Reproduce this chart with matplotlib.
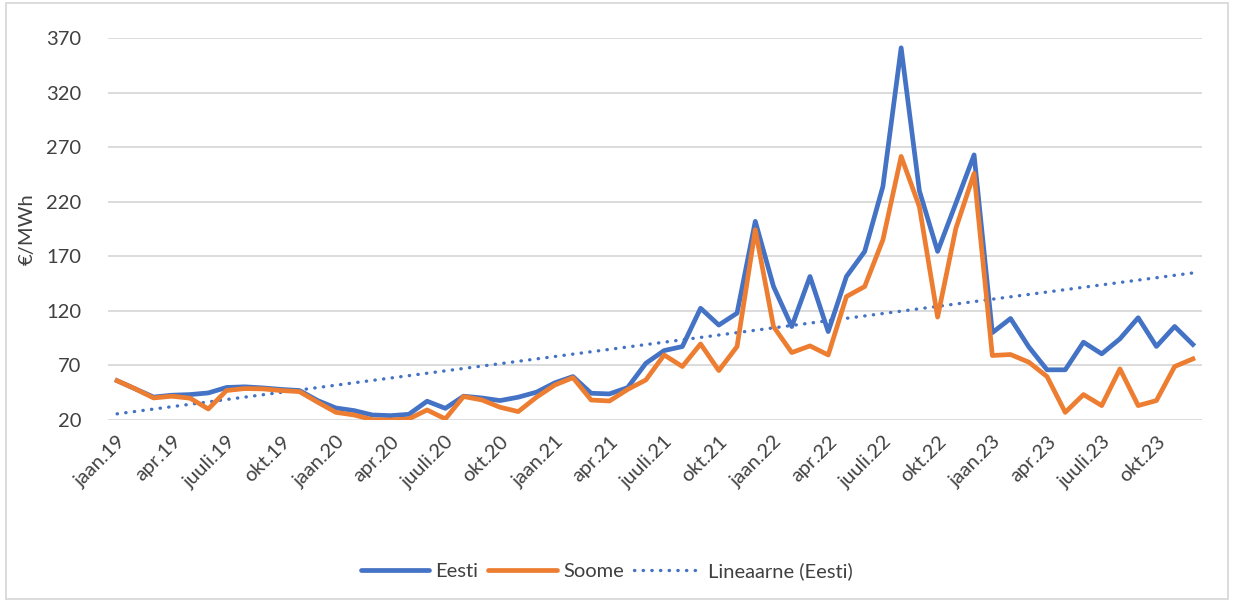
import numpy as np
import matplotlib
matplotlib.use('Agg')
import matplotlib.pyplot as plt
from matplotlib.lines import Line2D
from matplotlib.patches import Rectangle

plt.rcParams['font.family'] = ['Lato', 'DejaVu Sans']

months = ['jaan', 'veebr', 'märts', 'apr', 'mai', 'juuni',
          'juuli', 'aug', 'sept', 'okt', 'nov', 'dets']
years = ['19', '20', '21', '22', '23']
labels = [m + '.' + y for y in years for m in months]

eesti = [56, 48.5, 41, 42.7, 43.3, 44.8, 49.8, 50.4, 49.4, 48, 47, 37.8,
         31, 28.6, 24.6, 24, 25.2, 37.2, 30.7, 41.8, 40.2, 37.8, 40.9, 45.5,
         54, 59.8, 44.5, 43.9, 49.7, 72, 83.6, 87.3, 122.4, 107, 117.9, 202,
         142.3, 105.6, 151.5, 101, 151.5, 174.4, 234, 361, 230, 174.5, 218.5, 262.9,
         100, 113, 87, 66, 66, 91.3, 80.6, 94.4, 113.7, 87.4, 105.7, 89.2]
soome = [56, 48.5, 40.2, 41.8, 40, 30.1, 47, 48.8, 48.5, 47, 46, 36.3,
         27, 24.6, 20.3, 20, 21, 29.2, 21, 41.5, 38.4, 31.7, 27.7, 40.9,
         52, 58.8, 38.3, 37.4, 48, 56.7, 79.6, 69, 89.7, 65.3, 87.3, 194.3,
         105.6, 81.8, 87.9, 79.6, 133.1, 142.3, 185.1, 261.5, 215.4, 114.3, 195.5, 246,
         79.1, 80, 73, 59.8, 27, 43.3, 33.2, 66.8, 33.2, 37.8, 69, 76]

blue = '#4472C4'
orange = '#ED7D31'
txt = '#404040'

x = np.arange(len(labels))
slope, intercept = np.polyfit(x, eesti, 1)
trend = slope * x + intercept

fig = plt.figure(figsize=(12.33, 6.01), dpi=100)
ax = fig.add_axes([108 / 1233, 1 - 420 / 601, (1202 - 108) / 1233, (420 - 38) / 601])

ax.plot(x, eesti, color=blue, lw=3.4, solid_joinstyle='round', zorder=3)
ax.plot(x, soome, color=orange, lw=3.4, solid_joinstyle='round', zorder=3)
ax.plot(x, trend, color=blue, lw=2.4, linestyle=(0, (0.1, 2.5)),
        dash_capstyle='round', zorder=2)

ax.set_xlim(-0.5, len(labels) - 0.5)
ax.set_ylim(20, 370)
ax.set_yticks(np.arange(20, 371, 50))
ax.set_xticks(x[::3])
ax.set_xticklabels(labels[::3], rotation=45, ha='right', va='top',
                   rotation_mode='anchor')
ax.tick_params(length=0, labelsize=14.5, colors=txt, pad=9)
ax.tick_params(axis='y', pad=19)
ax.grid(axis='y', color='#D9D9D9', lw=1.3)
ax.set_axisbelow(True)
for s in ax.spines.values():
    s.set_visible(False)
ax.set_ylabel('€/MWh', fontsize=14.5, color=txt, labelpad=8)

handles = [Line2D([0], [0], color=blue, lw=3.4, solid_capstyle='round'),
           Line2D([0], [0], color=orange, lw=3.4, solid_capstyle='round'),
           Line2D([0], [0], color=blue, lw=2.4, linestyle=(0, (0.1, 2.5)),
                  dash_capstyle='round')]
fig.legend(handles, ['Eesti', 'Soome', 'Lineaarne (Eesti)'], loc='center',
           bbox_to_anchor=(607 / 1233, 1 - 571 / 601), ncol=3, frameon=False,
           fontsize=14.5, labelcolor=txt, handlelength=3.4,
           handletextpad=0.3, columnspacing=0.5)

fig.patches.append(Rectangle((6 / 1233, 2 / 601), 1222 / 1233, 596 / 601,
                             transform=fig.transFigure, fill=False,
                             edgecolor='#D9D9D9', lw=1.3))

fig.savefig('out.png', dpi=100)
